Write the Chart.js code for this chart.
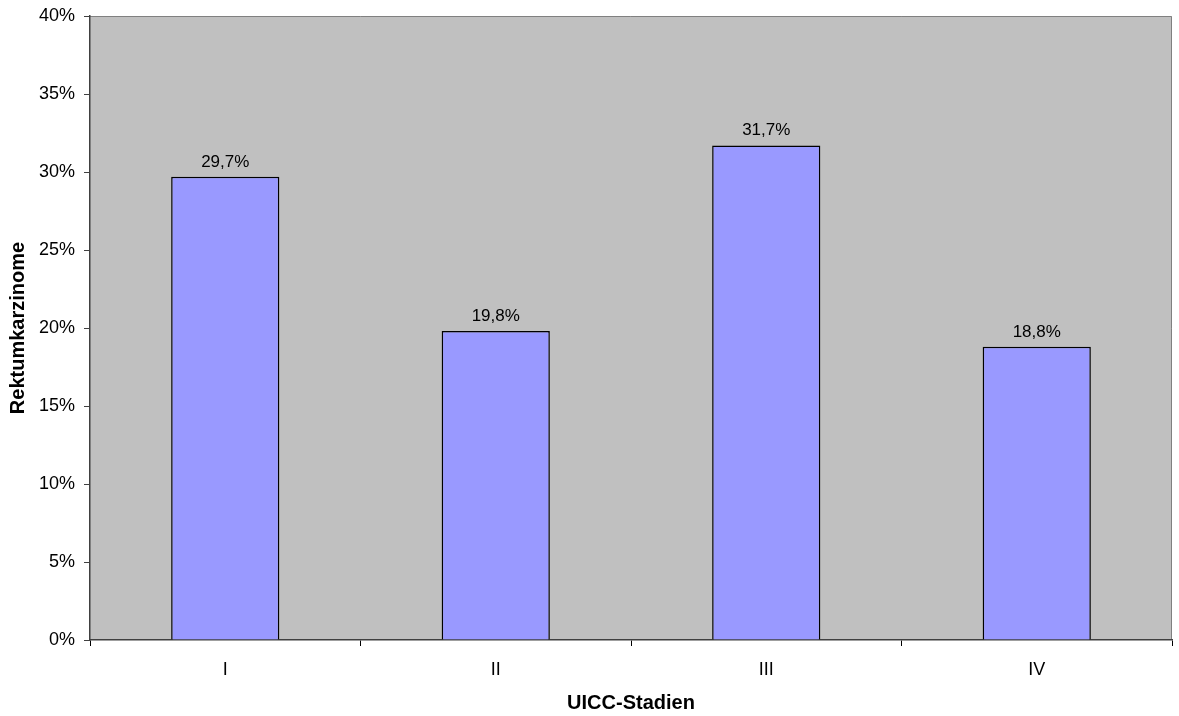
<!DOCTYPE html>
<html>
<head>
<meta charset="utf-8">
<script src="https://cdn.jsdelivr.net/npm/chart.js@4/dist/chart.umd.min.js"></script>
<style>
  html, body { margin: 0; padding: 0; background: #fff; }
  #wrap { width: 1179px; height: 716px; }
</style>
</head>
<body>
<div id="wrap"><canvas id="c" width="1179" height="716"></canvas></div>
<script>
const stages = ["I", "II", "III", "IV"]
const shares = [29.7, 19.8, 31.7, 18.8]
const yTicks = [0, 5, 10, 15, 20, 25, 30, 35, 40]

const FONT = "'Liberation Sans', Arial, sans-serif"

// gray plot background with a thin frame, like the old office charts
const plotFrame = {
  id: "plotFrame",
  beforeDraw(chart) {
    const { ctx, chartArea: a } = chart
    ctx.save()
    ctx.fillStyle = "#C0C0C0"
    ctx.fillRect(a.left, a.top, a.right - a.left, a.bottom - a.top)
    ctx.strokeStyle = "#808080"
    ctx.lineWidth = 1
    ctx.beginPath()
    ctx.moveTo(a.left, a.top + 0.5)
    ctx.lineTo(a.right - 0.5, a.top + 0.5)
    ctx.lineTo(a.right - 0.5, a.bottom)
    ctx.stroke()
    ctx.restore()
  },
}

const valueLabels = {
  id: "valueLabels",
  afterDatasetsDraw(chart) {
    const { ctx } = chart
    const meta = chart.getDatasetMeta(0)
    ctx.save()
    ctx.fillStyle = "#000"
    ctx.font = "17px " + FONT
    ctx.textAlign = "center"
    ctx.textBaseline = "alphabetic"
    meta.data.forEach((bar, i) => {
      ctx.fillText(shares[i].toFixed(1).replace(".", ",") + "%", bar.x, bar.y - 10)
    })
    ctx.restore()
  },
}

new Chart(document.getElementById("c"), {
  type: "bar",
  data: {
    labels: stages,
    datasets: [
      {
        data: shares,
        backgroundColor: "#9999FF",
        borderColor: "#000000",
        borderWidth: 1.5,
        categoryPercentage: 0.4,
        barPercentage: 1.0,
      },
    ],
  },
  options: {
    responsive: false,
    animation: false,
    devicePixelRatio: 1,
    layout: { padding: { top: 16, right: 7, left: 0, bottom: 0 } },
    plugins: {
      legend: { display: false },
      tooltip: { enabled: false },
    },
    scales: {
      x: {
        offset: true,
        grid: {
          offset: true,
          drawOnChartArea: false,
          drawTicks: true,
          tickLength: 6,
          color: "#000",
        },
        border: { color: "#404040", width: 1.5 },
        ticks: { color: "#000", font: { family: FONT, size: 18 }, padding: 13 },
        title: {
          display: true,
          text: "UICC-Stadien",
          color: "#000",
          font: { family: FONT, size: 20, weight: "bold" },
          padding: { top: 0, bottom: 1 },
        },
        afterFit(scale) { scale.height = 76 },
      },
      y: {
        min: 0,
        max: 40,
        afterBuildTicks(scale) { scale.ticks = yTicks.map((v) => ({ value: v })) },
        grid: {
          drawOnChartArea: false,
          drawTicks: true,
          tickLength: 6,
          color: "#404040",
        },
        border: { color: "#404040", width: 1.5 },
        ticks: {
          color: "#000",
          font: { family: FONT, size: 18 },
          padding: 9,
          callback: (v) => v + "%",
        },
        title: {
          display: true,
          text: "Rektumkarzinome",
          color: "#000",
          font: { family: FONT, size: 20, weight: "bold" },
          padding: { top: 6, bottom: 0 },
        },
        afterFit(scale) {
          scale.width = 90
          // the 40% label may stick out above the plot, as in the original
          scale.paddingTop = 0
          scale.paddingBottom = 0
        },
      },
    },
  },
  plugins: [plotFrame, valueLabels],
})
</script>
</body>
</html>
